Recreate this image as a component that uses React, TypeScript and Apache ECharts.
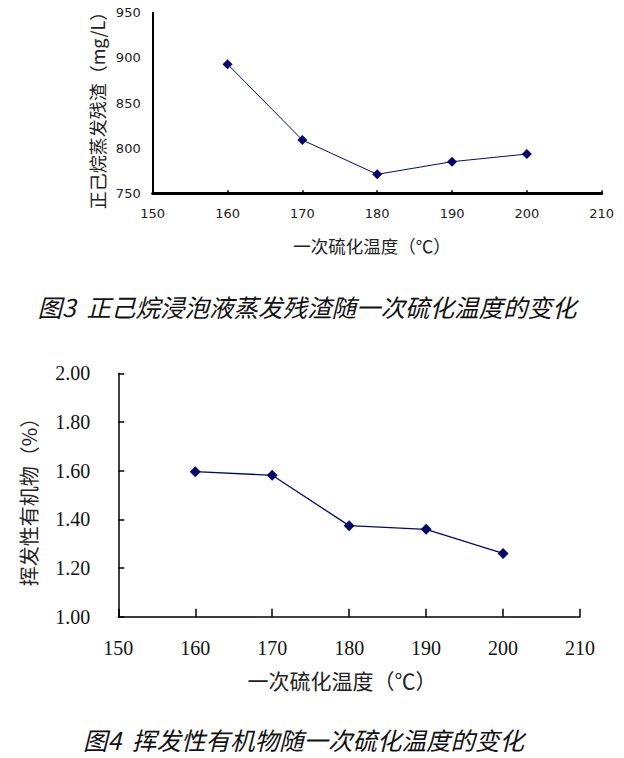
import React, { useEffect, useRef } from "react";
import * as echarts from "echarts";

const temps = [160, 170, 180, 190, 200];
const residue = [893, 809, 771, 785, 793.5];
const volatileOrg = [1.596, 1.581, 1.374, 1.359, 1.26];

const topYName = "正己烷蒸发残渣（mg/L）";
const bottomYName = "挥发性有机物（%）";
const xName = "一次硫化温度（℃）";
const caption3 = "图3  正己烷浸泡液蒸发残渣随一次硫化温度的变化";
const caption4 = "图4  挥发性有机物随一次硫化温度的变化";

const LINE = "#08086a";
const CJK = '"Noto Sans CJK SC", sans-serif';

export default function App() {
  const ref = useRef<HTMLDivElement>(null);
  useEffect(() => {
    if (!ref.current) return;
    const chart = echarts.init(ref.current, undefined, { renderer: "svg" });
    const topData = temps.map((t, i) => [t, residue[i]]);
    const botData = temps.map((t, i) => [t, volatileOrg[i]]);
    chart.setOption({
      animation: false,
      backgroundColor: "#ffffff",
      grid: [
        { left: 152.7, top: 12.7, width: 449, height: 180.6 },
        { left: 118.3, top: 373.3, width: 461.7, height: 243.4 },
      ],
      xAxis: [
        {
          type: "value",
          gridIndex: 0,
          min: 150,
          max: 210,
          interval: 10,
          splitLine: { show: false },
          axisLine: { lineStyle: { color: "#000", width: 3 } },
          axisTick: { inside: true, length: 3, lineStyle: { color: "#000", width: 1.5 } },
          axisLabel: { margin: 14, color: "#222", fontSize: 13, fontFamily: "DejaVu Sans" },
        },
        {
          type: "value",
          gridIndex: 1,
          min: 150,
          max: 210,
          interval: 10,
          splitLine: { show: false },
          axisLine: { lineStyle: { color: "#000", width: 1.5 } },
          axisTick: { inside: true, length: 8, lineStyle: { color: "#000", width: 1.5 } },
          axisLabel: { margin: 21, color: "#111", fontSize: 20, fontFamily: "Liberation Serif" },
        },
      ],
      yAxis: [
        {
          type: "value",
          gridIndex: 0,
          min: 750,
          max: 950,
          interval: 50,
          splitLine: { show: false },
          axisLine: { show: true, lineStyle: { color: "#000", width: 2 } },
          axisTick: { show: false },
          axisLabel: { margin: 12, color: "#222", fontSize: 13, fontFamily: "DejaVu Sans" },
        },
        {
          type: "value",
          gridIndex: 1,
          min: 1.0,
          max: 2.0,
          interval: 0.2,
          splitLine: { show: false },
          axisLine: { show: true, lineStyle: { color: "#000", width: 1.5 } },
          axisTick: { inside: true, length: 6, lineStyle: { color: "#000", width: 1.5 } },
          axisLabel: {
            margin: 28,
            color: "#111",
            fontSize: 20,
            fontFamily: "Liberation Serif",
            formatter: (v: number) => v.toFixed(2),
          },
        },
      ],
      series: [
        {
          type: "line",
          xAxisIndex: 0,
          yAxisIndex: 0,
          data: topData,
          symbol: "diamond",
          symbolSize: 10,
          lineStyle: { color: LINE, width: 1 },
          itemStyle: { color: LINE },
        },
        {
          type: "line",
          xAxisIndex: 1,
          yAxisIndex: 1,
          data: botData,
          symbol: "diamond",
          symbolSize: 11,
          lineStyle: { color: LINE, width: 1.3 },
          itemStyle: { color: LINE },
        },
      ],
      graphic: [
        {
          type: "text",
          x: 96.7,
          y: 106,
          rotation: Math.PI / 2,
          style: { text: topYName, align: "center", verticalAlign: "middle", font: `18px ${CJK}`, fill: "#222" },
        },
        {
          type: "text",
          x: 372,
          y: 245,
          style: { text: xName, align: "center", verticalAlign: "middle", font: `17.5px ${CJK}`, fill: "#222" },
        },
        {
          type: "text",
          x: 307,
          y: 306.5,
          style: { text: caption3, align: "center", verticalAlign: "middle", font: `italic 24.5px ${CJK}`, fill: "#111" },
        },
        {
          type: "text",
          x: 28,
          y: 497,
          rotation: Math.PI / 2,
          style: { text: bottomYName, align: "center", verticalAlign: "middle", font: `20px ${CJK}`, fill: "#222" },
        },
        {
          type: "text",
          x: 342,
          y: 680,
          style: { text: xName, align: "center", verticalAlign: "middle", font: `21px ${CJK}`, fill: "#222" },
        },
        {
          type: "text",
          x: 303.5,
          y: 739.5,
          style: { text: caption4, align: "center", verticalAlign: "middle", font: `italic 24.5px ${CJK}`, fill: "#111" },
        },
      ],
    });
    return () => chart.dispose();
  }, []);
  return (
    <div
      ref={ref}
      style={{ position: "absolute", left: 0, top: 0, width: 624, height: 758, background: "#fff" }}
    />
  );
}
